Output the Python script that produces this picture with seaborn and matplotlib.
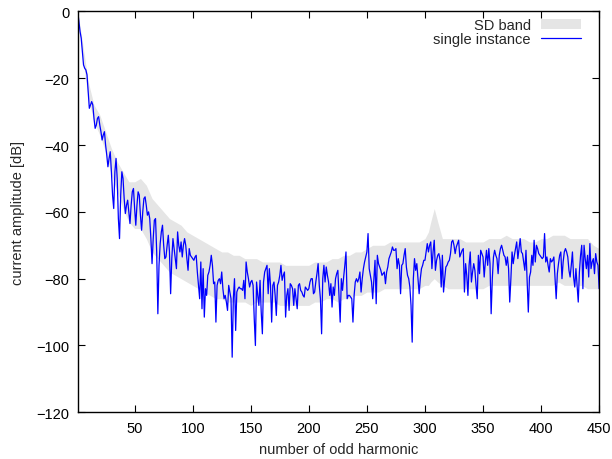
import matplotlib
matplotlib.use("Agg")
import matplotlib.pyplot as plt
import numpy as np
import seaborn as sns

# amplitude of a single instance, one value per odd harmonic (index 1..450), dB
amp = [
    0, -3, -6, -8, -12, -16, -17, -17.5, -19, -24,
    -29, -28, -27, -28, -32, -35, -34, -32, -31.5, -34,
    -36, -38.5, -37, -36, -40, -43, -46.5, -44, -42, -48,
    -55, -59, -48, -44, -50, -62, -68, -55, -48, -50,
    -56, -60.5, -58, -56.5, -60, -63.5, -58, -54, -53, -59,
    -64, -58, -54, -55, -61, -65.5, -60, -56, -55.5, -58,
    -61, -60, -62, -68, -75.5, -68, -62.5, -62, -72, -90.5,
    -76, -69.5, -66, -64, -70, -74, -73.5, -70, -67, -72,
    -84.5, -74, -68, -71, -74, -77, -66, -70, -72, -69,
    -73.5, -70, -68, -70, -74, -77.5, -71, -73, -73.5, -74,
    -74.5, -73.5, -73, -78, -82, -86, -75, -89, -77, -91.5,
    -83, -85, -79, -78, -76, -73, -76, -81.5, -81, -93,
    -82, -80.5, -80, -81.5, -78, -83, -86, -85, -87, -89.5,
    -82, -84, -86, -103.5, -86, -80, -95.5, -84, -83, -82.5,
    -83, -83, -83.5, -80.5, -86, -75, -78, -80, -82.5, -81,
    -80.5, -82, -92, -100, -81, -85, -88, -80.5, -90, -96.5,
    -81, -78, -77, -76, -84.5, -77, -82, -93, -82, -81,
    -85, -91, -82, -81, -79, -76, -80.5, -79, -78, -91.5,
    -85, -83, -89.5, -81.5, -82, -83, -88, -83, -86, -89,
    -82, -81.5, -83.5, -84, -85, -85.5, -82.5, -83, -83.5, -83,
    -81, -80, -80, -84.5, -84, -81, -78.5, -75.5, -82, -86,
    -96.5, -80, -76, -81, -76.5, -79, -81, -85, -81.5, -88.5,
    -82.5, -85, -80, -78.5, -77.5, -85, -93, -80, -83.5, -79.5,
    -76, -72, -86, -85, -85, -85.5, -86, -93, -85, -81,
    -80, -81, -80, -78, -84, -80, -77, -75, -73.5, -72,
    -66.5, -77, -79, -81, -86, -80, -74.5, -87.5, -73, -75.5,
    -76.5, -77.5, -79, -78.5, -78, -81.5, -78, -76.5, -74, -73,
    -72, -70.5, -71.5, -71.5, -71, -77, -74, -76, -84.5, -76,
    -75.5, -73, -71, -76.5, -79, -80, -82.5, -88, -99, -80,
    -74, -77.5, -75.5, -80, -84.5, -80, -77, -76, -74.5, -74.5,
    -72, -69.5, -72, -70, -69, -77, -72, -68.5, -77.5, -74.5,
    -73, -72.5, -74.5, -82.5, -73, -84, -80, -76.5, -76, -75,
    -74.5, -72.5, -69, -68.5, -70, -72.5, -70.5, -69.5, -68.5, -73.5,
    -72.5, -71.5, -71, -84, -75.5, -79, -85, -76, -72, -81,
    -78, -75.5, -77.5, -82, -86, -73, -78.5, -71.5, -72.5, -73.5,
    -79.5, -75, -71.5, -76, -71, -75.5, -90.5, -80, -73.5, -71.5,
    -73, -74, -78.5, -73, -71, -70, -71.5, -73, -73.5, -76,
    -73.5, -77, -87, -80, -72, -75.5, -73, -71, -69, -74,
    -71, -68, -72, -72.5, -75, -77.5, -71.5, -80.5, -90, -79.5,
    -78, -73, -76, -68.5, -75, -70, -71, -72.5, -73, -73.5,
    -74, -73.5, -66.5, -75, -73.5, -76, -78, -74, -75, -74.5,
    -73.5, -80, -86, -78.5, -75.5, -73, -72, -80, -75, -72,
    -71, -72, -73.5, -77.5, -79.5, -76, -72, -79.5, -82.5, -77,
    -82, -87, -78, -73, -70, -83, -70, -74, -77, -73,
    -79.5, -69.5, -77, -75, -74, -78.5, -72.5, -75, -76, -83,
]
harmonic = np.arange(1, len(amp) + 1)

# SD band (lower / upper edge) read at coarser steps
band_x = [1, 5, 10, 15, 20, 25, 30, 35, 40, 45, 50, 55, 60, 65, 70, 75, 80,
          85, 90, 95, 100, 105, 110, 115, 120, 125, 130, 135, 140, 145, 150,
          155, 160, 165, 170, 175, 180, 185, 190, 195, 200, 205, 210, 215,
          220, 225, 230, 235, 240, 245, 250, 255, 260, 265, 270, 275, 280,
          285, 290, 295, 300, 303, 305, 308, 311, 315, 320, 325, 330, 335,
          340, 345, 350, 355, 360, 365, 370, 375, 380, 385, 390, 395, 400,
          405, 410, 415, 420, 425, 430, 435, 440, 445, 450]
band_lo = [-1, -13, -26, -33, -37, -42, -49, -54, -59, -63, -65, -65, -68,
           -72, -74, -76, -78, -79, -80, -81, -82, -83, -84, -85, -86, -86,
           -87, -87, -87, -87, -88, -87, -87, -87, -87, -88, -88, -88, -88,
           -88, -88, -87, -87, -86, -86, -87, -86, -86, -85, -85, -84, -84,
           -84, -83, -83, -83, -83, -83, -83, -83, -82, -82, -81, -80, -81,
           -82, -83, -83, -83, -83, -83, -83, -83, -82, -82, -82, -82, -82,
           -82, -82, -82, -82, -82, -82, -82, -81, -82, -82, -82, -82, -83,
           -83, -83]
band_hi = [0, -9, -21, -28, -31, -36, -41, -45, -48, -51, -51, -50, -52,
           -56, -58, -60, -62, -63, -64, -66, -67, -68, -69, -70, -71, -72,
           -72, -73, -73, -74, -74, -74, -75, -75, -75, -75, -76, -76, -76,
           -76, -76, -75, -75, -75, -74, -74, -73, -73, -72, -72, -71, -70,
           -70, -70, -69, -69, -69, -69, -69, -69, -68, -66, -63, -59, -63,
           -68, -68, -68, -68, -69, -69, -69, -69, -68, -68, -68, -67, -68,
           -68, -68, -69, -69, -68, -68, -67, -67, -67, -68, -68, -68, -68,
           -70, -71]

sns.set_style("ticks")
plt.rcParams['font.family'] = ['Liberation Sans', 'DejaVu Sans']
plt.rcParams['font.size'] = 10.5

fig = plt.figure(figsize=(6.12, 4.6), dpi=100)
ax = fig.add_axes([0.127, 0.1015, 0.852, 0.8715])

ax.fill_between(band_x, band_lo, band_hi, color='#e5e5e5', linewidth=0,
                label='SD band')
sns.lineplot(x=harmonic, y=amp, ax=ax, color='#0000ff', linewidth=0.9,
             label='single instance')

ax.set_xlim(1, 450)
ax.set_ylim(-120, 0)
ax.set_xticks([50, 100, 150, 200, 250, 300, 350, 400, 450])
ax.set_yticks([0, -20, -40, -60, -80, -100, -120])
ax.tick_params(direction='in', top=True, right=True, length=5, width=0.8,
               colors='black', labelsize=10.5, pad=6)
for s in ax.spines.values():
    s.set_linewidth(1.0)
    s.set_color('black')

ax.set_xlabel('number of odd harmonic', fontsize=10.5, labelpad=5)
ax.set_ylabel('current amplitude [dB]', fontsize=10.5, labelpad=8)

ax.legend(loc='upper right', bbox_to_anchor=(0.9866, 1.01), frameon=False,
          markerfirst=False, fontsize=10.5, handlelength=2.75,
          handletextpad=0.7, borderaxespad=0.75, borderpad=0.0,
          labelspacing=-0.04)

fig.savefig('out.png', dpi=100)
